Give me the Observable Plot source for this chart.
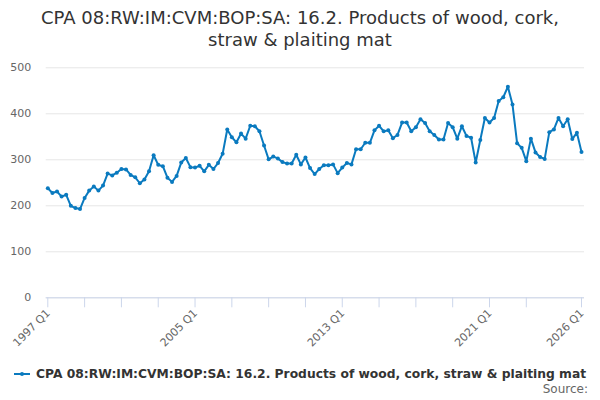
<!DOCTYPE html>
<html><head><meta charset="utf-8">
<script src="https://cdn.jsdelivr.net/npm/d3@7"></script>
<script src="https://cdn.jsdelivr.net/npm/@observablehq/plot@0.6"></script>
<style>
body{margin:0;background:#fff;font-family:"DejaVu Sans",sans-serif;}
#wrap{position:relative;width:600px;height:400px;overflow:hidden;background:#fff;}
#title{position:absolute;top:7px;left:0;width:600px;text-align:center;font-size:18px;color:#333;line-height:22px;}
#chart{position:absolute;left:0;top:50px;}
#legend{position:absolute;left:14px;top:366px;font-size:12.3px;font-weight:bold;color:#333;white-space:nowrap;display:flex;align-items:center;height:16px;}
#source{position:absolute;right:12px;top:382px;font-size:12px;color:#666;}
</style></head>
<body><div id="wrap">
<div id="title">CPA 08:RW:IM:CVM:BOP:SA: 16.2. Products of wood, cork,<br>straw &amp; plaiting mat</div>
<div id="chart"></div>
<div id="legend"><svg width="18" height="10"><line x1="0" y1="5" x2="16" y2="5" stroke="#0a7abf" stroke-width="2"/><circle cx="8" cy="5" r="2" fill="#0a7abf"/></svg><span id="legtext" style="margin-left:4px"></span></div>
<div id="source">Source:</div>
</div>
<script>
const seriesName = "CPA 08:RW:IM:CVM:BOP:SA: 16.2. Products of wood, cork, straw & plaiting mat";
const startYear = 1997;
const values = [
  238, 228, 231, 220, 224, 200, 195, 193, 217, 233, 242, 233, 244, 270, 266, 272,
  280, 279, 267, 262, 249, 257, 275, 310, 289, 286, 261, 252, 265, 294, 304, 284,
  283, 287, 275, 289, 280, 293, 313, 366, 349, 338, 357, 346, 374, 373, 362, 331,
  301, 307, 303, 295, 292, 292, 311, 290, 305, 282, 269, 280, 288, 288, 290, 271,
  283, 293, 290, 323, 323, 337, 337, 364, 374, 362, 364, 347, 354, 381, 381, 362,
  371, 388, 380, 362, 354, 344, 344, 380, 371, 346, 373, 352, 348, 294, 343, 391,
  381, 391, 428, 436, 459, 420, 336, 326, 297, 346, 316, 306, 302, 360, 366, 391,
  373, 388, 345, 359, 317
];
const quarters = values.map((_, i) => `${startYear + Math.floor(i / 4)} Q${(i % 4) + 1}`);
const tickQuarters = ["1997 Q1","1999 Q1","2001 Q1","2003 Q1","2005 Q1","2007 Q1","2009 Q1","2011 Q1","2013 Q1","2015 Q1","2017 Q1","2019 Q1","2021 Q1","2023 Q1","2026 Q1"];
const labelQuarters = ["1997 Q1","2005 Q1","2013 Q1","2021 Q1","2026 Q1"];
const yTicks = [0, 100, 200, 300, 400, 500];

document.getElementById("legtext").textContent = seriesName;

const data = values.map((v, i) => ({i, q: quarters[i], v}));
const idx = q => quarters.indexOf(q);
const tickIdx = tickQuarters.map(idx);
const labelData = labelQuarters.map(q => ({i: idx(q), label: q}));
const color = "#0a7abf";

const chart = Plot.plot({
  width: 600,
  height: 310,
  marginLeft: 45.7,
  marginRight: 16,
  marginTop: 17.3,
  marginBottom: 62.7,
  x: {type: "linear", domain: [-0.35, 116.65]},
  y: {domain: [0, 500]},
  style: {fontFamily: "DejaVu Sans, sans-serif", fontSize: "11px", color: "#666", background: "#fff"},
  marks: [
    Plot.gridY(yTicks, {stroke: "#e6e6e6", strokeOpacity: 1}),
    Plot.axisY(yTicks, {tickSize: 0, tickPadding: 15, label: null, fill: "#666", fontSize: 11}),
    Plot.axisX(tickIdx, {tickSize: 10, stroke: "#ccd6eb", strokeOpacity: 1, tickFormat: () => "", label: null}),
    Plot.ruleY([0], {stroke: "#ccd6eb"}),
    Plot.text(labelData, {x: "i", frameAnchor: "bottom", text: "label", rotate: -45, textAnchor: "end", dx: 3, dy: 16, fill: "#666", fontSize: 11}),
    Plot.line(data, {x: "i", y: "v", stroke: color, strokeWidth: 2}),
    Plot.dot(data, {x: "i", y: "v", r: 2, fill: color})
  ]
});
document.getElementById("chart").appendChild(chart);
</script>
</body></html>
